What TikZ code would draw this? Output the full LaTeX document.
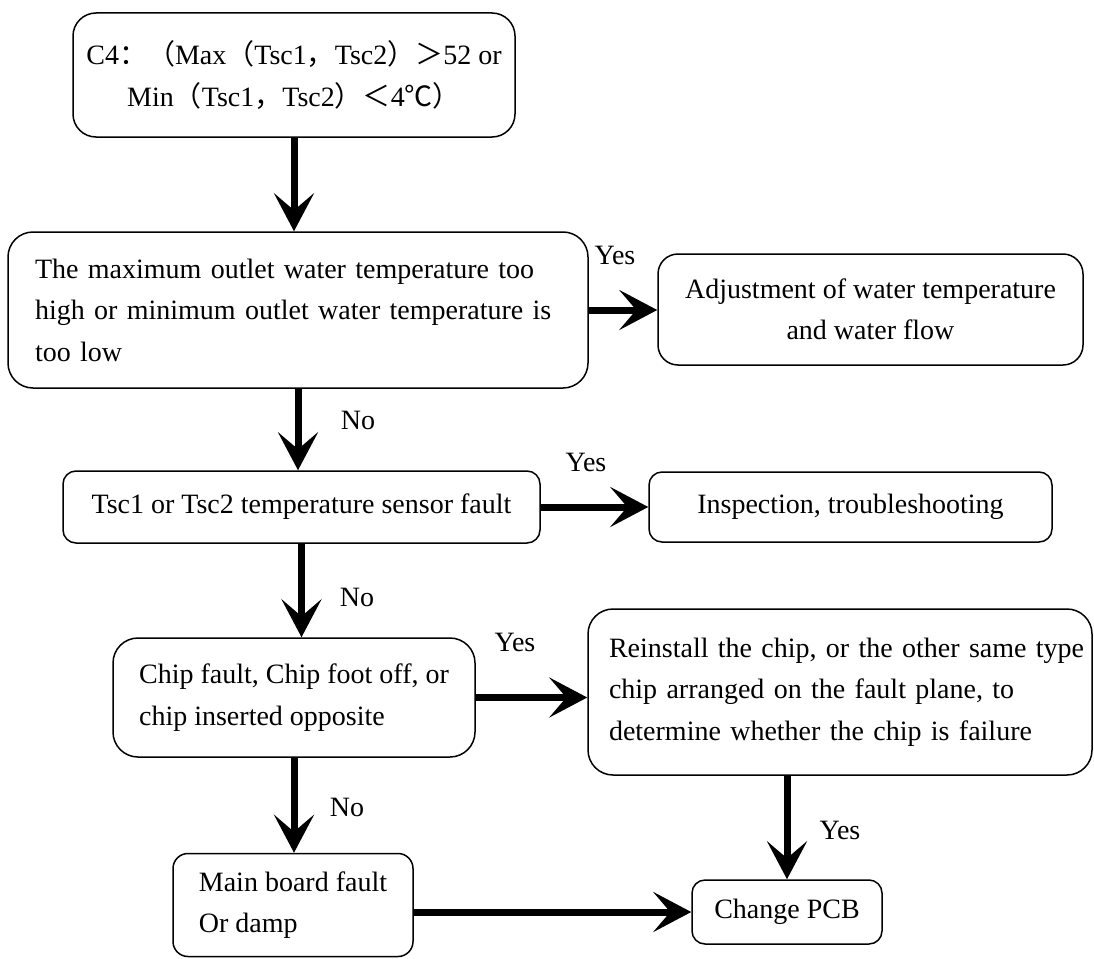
\documentclass[tikz,border=0pt]{standalone}
\usepackage{fontspec}
\setmainfont{Liberation Serif}
\newfontfamily\cjk{Noto Sans CJK SC}
\usetikzlibrary{arrows.meta}
\begin{document}
\begin{tikzpicture}[x=1pt,y=-1pt,
  box/.style={draw, line width=1.5pt, rounded corners=#1, inner sep=0pt,
    font=\fontsize{28pt}{41.5pt}\selectfont},
  box/.default=20pt,
  lbl/.style={font=\fontsize{28pt}{34pt}\selectfont, inner sep=0pt},
  arr/.style={line width=7pt, -{Stealth[length=38pt,width=40pt,inset=17pt]}}]
\useasboundingbox (0,0) rectangle (1094,958);

\node[box=23pt, minimum width=442pt, minimum height=124pt, align=center] (b1) at (294,75)
  {C4{\cjk ：（}Max{\cjk （}Tsc1{\cjk ，}Tsc2{\cjk ）＞}52 or\\
   Min{\cjk （}Tsc1{\cjk ，}Tsc2{\cjk ）＜}4{\cjk ℃）}};

\node[box=25pt, minimum width=580pt, minimum height=156pt, text width=526pt, align=left] (b2) at (298,310)
  {\makebox[526pt][s]{The maximum outlet water temperature too}\\
   \makebox[526pt][s]{high or minimum outlet water temperature is}\\
   too low};

\node[box=20pt, minimum width=425pt, minimum height=111pt, align=center] (b3) at (870.5,309.5)
  {Adjustment of water temperature\\and water flow};

\node[box=13pt, minimum width=477pt, minimum height=72pt] (b4) at (301.5,507)
  {Tsc1 or Tsc2 temperature sensor fault};

\node[box=13pt, minimum width=403pt, minimum height=70pt] (b5) at (850.5,507)
  {Inspection, troubleshooting};

\node[box=25pt, minimum width=362pt, minimum height=119pt, align=left] (b6) at (294,697.5)
  {Chip fault, Chip foot off, or\\chip inserted opposite};

\node[box=25pt, minimum width=504pt, minimum height=166pt, text width=462pt, align=left] (b7) at (840,692)
  {\makebox[462pt][s]{Reinstall the chip, or the other same type}\\
   \makebox[462pt][s]{chip arranged on the fault plane, to}\\
   determine whether the chip is failure};

\node[box=15pt, minimum width=240pt, minimum height=103pt, align=left] (b8) at (293,905)
  {Main board fault\\Or damp};

\node[box=13pt, minimum width=190pt, minimum height=64pt] (b9) at (787,912)
  {Change PCB};

\node[lbl] (y1) at (615,255) {Yes};
\node[lbl] (n1) at (358,420) {No};
\node[lbl] (y2) at (586,462) {Yes};
\node[lbl] (n2) at (357,597) {No};
\node[lbl] (y3) at (515,642) {Yes};
\node[lbl] (n3) at (347,807) {No};
\node[lbl] (y4) at (840,830) {Yes};

\draw[arr] (b1.south) -- (b1.south |- b2.north);
\draw[arr] (b2.east) -- (b2.east -| b3.west);
\draw[arr] (b2.south) -- (b2.south |- b4.north);
\draw[arr] (b4.east) -- (b5.west);
\draw[arr] (b4.south) -- (b4.south |- b6.north);
\draw[arr] (b6.east) -- (b6.east -| b7.west);
\draw[arr] (b6.south) -- (b6.south |- b8.north);
\draw[arr] (b9.north |- b7.south) -- (b9.north);
\draw[arr] (b8.east |- b9.west) -- (b9.west);
\end{tikzpicture}
\end{document}
